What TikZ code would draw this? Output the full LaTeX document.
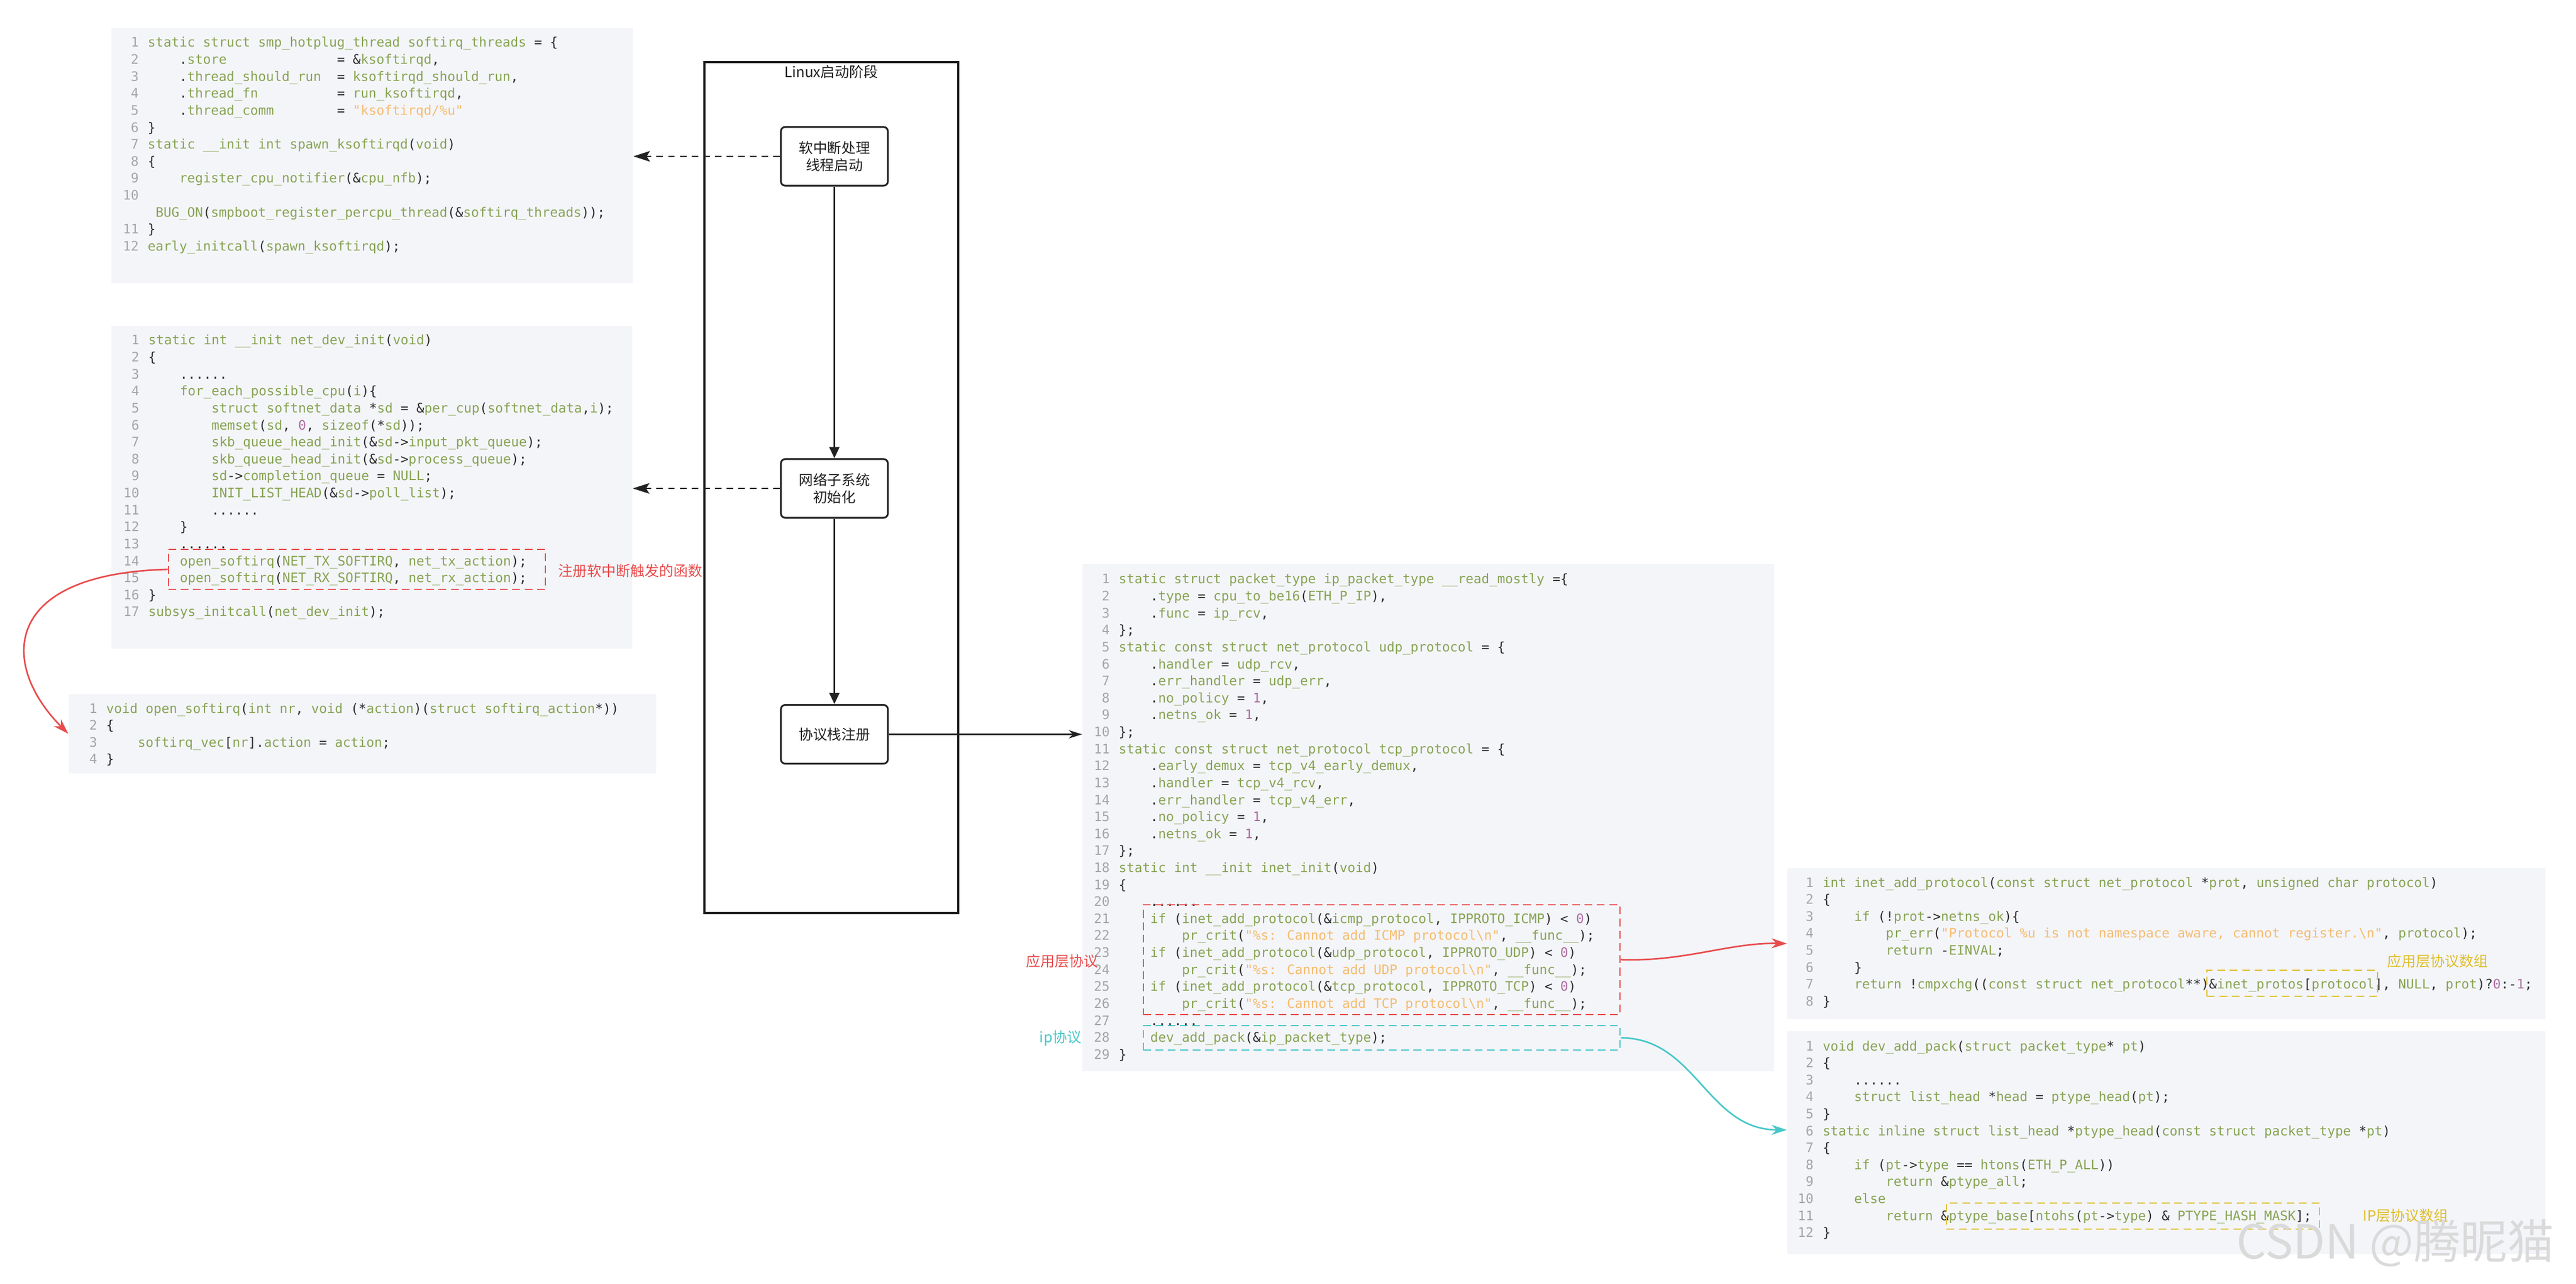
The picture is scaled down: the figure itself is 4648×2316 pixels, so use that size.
\documentclass[tikz,border=0pt]{standalone}
\usepackage{fontspec}
\usetikzlibrary{arrows.meta,fit,calc}
\newfontfamily\codefont{DejaVu Sans Mono}
\newfontfamily\cjk{Noto Sans CJK SC}
\definecolor{cbg}{RGB}{244,245,249}
\definecolor{cgreen}{RGB}{136,164,84}
\definecolor{cstr}{RGB}{244,188,112}
\definecolor{cnum}{RGB}{172,110,160}
\definecolor{cnumc}{RGB}{165,165,170}
\definecolor{cdk}{RGB}{45,45,45}
\definecolor{cred}{RGB}{232,76,76}
\definecolor{ccyan}{RGB}{72,199,201}
\definecolor{cyel}{RGB}{222,190,44}
\definecolor{cline}{RGB}{34,34,34}
\definecolor{cwm}{RGB}{218,218,218}
\newif\ifcstr
\newcommand\pc[1]{\ifcstr#1\else{\color{cdk}#1}\fi}
\newcommand\STR[1]{{\cstrtrue\color{cstr}#1}}
\newcommand\NUM[1]{{\color{cnum}#1}}
\newcommand\OB{\pc{\char`\{}}
\newcommand\CB{\pc{\char`\}}}
\newcommand\BS{\char`\\}
\newlength\cwd
\setlength\cwd{4.0458pt}
\newcommand\SP[1]{\hspace*{#1\cwd}}
\ExplSyntaxOn
\regex_const:Nn \c_my_punct_regex { [\(\)\,\;\=\*\.\[\]\!\?\:\<\>\-] | \c{\&} }
\tl_new:N \l_my_code_tl
\cs_new_protected:Npn \codefmt #1
  {
    \tl_set:Nn \l_my_code_tl {#1}
    \regex_replace_all:NnN \c_my_punct_regex { \c{pc}\cB\{ \0 \cE\} } \l_my_code_tl
    \tl_use:N \l_my_code_tl
  }
\ExplSyntaxOff
\def\pitch{0.306cm}
\def\cgap{0.15cm}
\def\cw{4.0458pt}
\newcommand\cl[5]{%
  \node[cnumst] (#1n#2) at ([yshift={-(#2)*\pitch}]#1) {#3};%
  \node[ctxt] (#1t#2) at ([xshift={\cgap+(#4)*\cw},yshift={-(#2)*\pitch}]#1) {\codefmt{#5}};%
}
\tikzset{
  codefnt/.style={font={\codefont\fontsize{6.72}{8}\selectfont}},
  cnumst/.style={codefnt,anchor=base east,inner sep=0pt,text=cnumc},
  ctxt/.style={codefnt,anchor=base west,inner sep=0pt,text=cgreen},
  codebg/.style={fill=cbg,draw=none,inner sep=0pt},
  procbox/.style={draw=cline,line width=0.9pt,rounded corners=0.08cm,minimum width=1.93cm,minimum height=1.06cm,align=center,inner sep=0pt,font={\cjk\fontsize{7.3}{8.8}\selectfont},text=cline},
  frame/.style={draw=cline,line width=0.9pt,inner sep=0pt},
  flowarrow/.style={draw=cline,line width=0.9pt,-{Triangle[length=0.2cm,width=0.18cm]}},
  dasharrow/.style={draw=cline,line width=0.8pt,dash pattern=on 3.4pt off 2.6pt,-{Stealth[length=0.3cm,width=0.19cm,inset=0.06cm]}},
  thinarrow/.style={draw=cline,line width=0.6pt,-{Stealth[length=0.24cm,width=0.15cm]}},
  redbox/.style={draw=cred,line width=0.8pt,dash pattern=on 4pt off 2.3pt,inner sep=0pt},
  cyanbox/.style={draw=ccyan,line width=0.8pt,dash pattern=on 4pt off 2.3pt,inner sep=0pt},
  yelbox/.style={draw=cyel,line width=0.7pt,dash pattern=on 4pt off 2.4pt,inner sep=0pt},
  redarrow/.style={draw=cred,line width=0.8pt,-{Stealth[length=0.28cm,width=0.18cm]}},
  cyanarrow/.style={draw=ccyan,line width=0.8pt,-{Stealth[length=0.28cm,width=0.18cm]}},
  lbl/.style={inner sep=0pt,font={\cjk\fontsize{7.4}{8.8}\selectfont}},
}
\begin{document}
\begin{tikzpicture}[x=0.01cm,y=-0.01cm]
\useasboundingbox (0,0) rectangle (4648,2316);
\fill[white] (0,0) rectangle (4648,2316);
% code backgrounds
\node[codebg,fit={(201,50) (1142,511)}] (b1) {};
\node[codebg,fit={(201,588) (1141,1170)}] (b2) {};
\node[codebg,fit={(124,1252) (1184,1395)}] (b3) {};
\node[codebg,fit={(1953,1017) (3201,1932)}] (b4) {};
\node[codebg,fit={(3225,1566) (4593,1838)}] (b5) {};
\node[codebg,fit={(3225,1860) (4593,2262)}] (b6) {};
\coordinate (b1o) at (251,85);
\coordinate (b2o) at (252,622);
\coordinate (b3o) at (176,1286);
\coordinate (b4o) at (2003,1053);
\coordinate (b5o) at (3273,1600);
\coordinate (b6o) at (3273,1895);
% block 1
\cl{b1o}{0}{1}{0}{static struct smp\_hotplug\_thread softirq\_threads = \OB}
\cl{b1o}{1}{2}{4}{.store\SP{14}= \&ksoftirqd,}
\cl{b1o}{2}{3}{4}{.thread\_should\_run\SP{2}= ksoftirqd\_should\_run,}
\cl{b1o}{3}{4}{4}{.thread\_fn\SP{10}= run\_ksoftirqd,}
\cl{b1o}{4}{5}{4}{.thread\_comm\SP{8}= \STR{"ksoftirqd/\%u"}}
\cl{b1o}{5}{6}{0}{\CB}
\cl{b1o}{6}{7}{0}{static \_\_init int spawn\_ksoftirqd(void)}
\cl{b1o}{7}{8}{0}{\OB}
\cl{b1o}{8}{9}{4}{register\_cpu\_notifier(\&cpu\_nfb);}
\cl{b1o}{9}{10}{0}{}
\cl{b1o}{10}{}{1}{BUG\_ON(smpboot\_register\_percpu\_thread(\&softirq\_threads));}
\cl{b1o}{11}{11}{0}{\CB}
\cl{b1o}{12}{12}{0}{early\_initcall(spawn\_ksoftirqd);}
% block 2
\cl{b2o}{0}{1}{0}{static int \_\_init net\_dev\_init(void)}
\cl{b2o}{1}{2}{0}{\OB}
\cl{b2o}{2}{3}{4}{......}
\cl{b2o}{3}{4}{4}{for\_each\_possible\_cpu(i)\OB}
\cl{b2o}{4}{5}{8}{struct softnet\_data *sd = \&per\_cup(softnet\_data,i);}
\cl{b2o}{5}{6}{8}{memset(sd, \NUM{0}, sizeof(*sd));}
\cl{b2o}{6}{7}{8}{skb\_queue\_head\_init(\&sd->input\_pkt\_queue);}
\cl{b2o}{7}{8}{8}{skb\_queue\_head\_init(\&sd->process\_queue);}
\cl{b2o}{8}{9}{8}{sd->completion\_queue = NULL;}
\cl{b2o}{9}{10}{8}{INIT\_LIST\_HEAD(\&sd->poll\_list);}
\cl{b2o}{10}{11}{8}{......}
\cl{b2o}{11}{12}{4}{\CB}
\cl{b2o}{12}{13}{4}{......}
\cl{b2o}{13}{14}{4}{open\_softirq(NET\_TX\_SOFTIRQ, net\_tx\_action);}
\cl{b2o}{14}{15}{4}{open\_softirq(NET\_RX\_SOFTIRQ, net\_rx\_action);}
\cl{b2o}{15}{16}{0}{\CB}
\cl{b2o}{16}{17}{0}{subsys\_initcall(net\_dev\_init);}
% block 3
\cl{b3o}{0}{1}{0}{void open\_softirq(int nr, void (*action)(struct softirq\_action*))}
\cl{b3o}{1}{2}{0}{\OB}
\cl{b3o}{2}{3}{4}{softirq\_vec[nr].action = action;}
\cl{b3o}{3}{4}{0}{\CB}
% block 4
\cl{b4o}{0}{1}{0}{static struct packet\_type ip\_packet\_type \_\_read\_mostly =\OB}
\cl{b4o}{1}{2}{4}{.type = cpu\_to\_be16(ETH\_P\_IP),}
\cl{b4o}{2}{3}{4}{.func = ip\_rcv,}
\cl{b4o}{3}{4}{0}{\CB;}
\cl{b4o}{4}{5}{0}{static const struct net\_protocol udp\_protocol = \OB}
\cl{b4o}{5}{6}{4}{.handler = udp\_rcv,}
\cl{b4o}{6}{7}{4}{.err\_handler = udp\_err,}
\cl{b4o}{7}{8}{4}{.no\_policy = \NUM{1},}
\cl{b4o}{8}{9}{4}{.netns\_ok = \NUM{1},}
\cl{b4o}{9}{10}{0}{\CB;}
\cl{b4o}{10}{11}{0}{static const struct net\_protocol tcp\_protocol = \OB}
\cl{b4o}{11}{12}{4}{.early\_demux = tcp\_v4\_early\_demux,}
\cl{b4o}{12}{13}{4}{.handler = tcp\_v4\_rcv,}
\cl{b4o}{13}{14}{4}{.err\_handler = tcp\_v4\_err,}
\cl{b4o}{14}{15}{4}{.no\_policy = \NUM{1},}
\cl{b4o}{15}{16}{4}{.netns\_ok = \NUM{1},}
\cl{b4o}{16}{17}{0}{\CB;}
\cl{b4o}{17}{18}{0}{static int \_\_init inet\_init(void)}
\cl{b4o}{18}{19}{0}{\OB}
\cl{b4o}{19}{20}{4}{......}
\cl{b4o}{20}{21}{4}{if (inet\_add\_protocol(\&icmp\_protocol, IPPROTO\_ICMP) < \NUM{0})}
\cl{b4o}{21}{22}{8}{pr\_crit(\STR{"\%s: Cannot add ICMP protocol\BS{}n"}, \_\_func\_\_);}
\cl{b4o}{22}{23}{4}{if (inet\_add\_protocol(\&udp\_protocol, IPPROTO\_UDP) < \NUM{0})}
\cl{b4o}{23}{24}{8}{pr\_crit(\STR{"\%s: Cannot add UDP protocol\BS{}n"}, \_\_func\_\_);}
\cl{b4o}{24}{25}{4}{if (inet\_add\_protocol(\&tcp\_protocol, IPPROTO\_TCP) < \NUM{0})}
\cl{b4o}{25}{26}{8}{pr\_crit(\STR{"\%s: Cannot add TCP protocol\BS{}n"}, \_\_func\_\_);}
\cl{b4o}{26}{27}{4}{......}
\cl{b4o}{27}{28}{4}{dev\_add\_pack(\&ip\_packet\_type);}
\cl{b4o}{28}{29}{0}{\CB}
% block 5
\cl{b5o}{0}{1}{0}{int inet\_add\_protocol(const struct net\_protocol *prot, unsigned char protocol)}
\cl{b5o}{1}{2}{0}{\OB}
\cl{b5o}{2}{3}{4}{if (!prot->netns\_ok)\OB}
\cl{b5o}{3}{4}{8}{pr\_err(\STR{"Protocol \%u is not namespace aware, cannot register.\BS{}n"}, protocol);}
\cl{b5o}{4}{5}{8}{return -EINVAL;}
\cl{b5o}{5}{6}{4}{\CB}
\cl{b5o}{6}{7}{4}{return !cmpxchg((const struct net\_protocol**)\&inet\_protos[protocol], NULL, prot)?\NUM{0}:-\NUM{1};}
\cl{b5o}{7}{8}{0}{\CB}
% block 6
\cl{b6o}{0}{1}{0}{void dev\_add\_pack(struct packet\_type* pt)}
\cl{b6o}{1}{2}{0}{\OB}
\cl{b6o}{2}{3}{4}{......}
\cl{b6o}{3}{4}{4}{struct list\_head *head = ptype\_head(pt);}
\cl{b6o}{4}{5}{0}{\CB}
\cl{b6o}{5}{6}{0}{static inline struct list\_head *ptype\_head(const struct packet\_type *pt)}
\cl{b6o}{6}{7}{0}{\OB}
\cl{b6o}{7}{8}{4}{if (pt->type == htons(ETH\_P\_ALL))}
\cl{b6o}{8}{9}{8}{return \&ptype\_all;}
\cl{b6o}{9}{10}{4}{else}
\cl{b6o}{10}{11}{8}{return \&ptype\_base[ntohs(pt->type) \& PTYPE\_HASH\_MASK];}
\cl{b6o}{11}{12}{0}{\CB}
% highlight boxes
\node[redbox,fit={(304,991) (984,1063)}] (rb1) {};
\node[redbox,fit={(2063,1632) (2923,1830)}] (rb2) {};
\node[cyanbox,fit={(2063,1850) (2923,1894)}] (cb) {};
\node[yelbox,fit={(3982,1750) (4290,1797)}] (yb1) {};
\node[yelbox,fit={(3512,2170) (4185,2217)}] (yb2) {};
% labels
\node[lbl,text=cred,anchor=west] (lab1) at (1007,1030) {注册软中断触发的函数};
\node[lbl,text=cred,anchor=east] (lab2) at (1982,1734) {应用层协议};
\node[lbl,text=ccyan,anchor=east] (lab3) at (1952,1873) {ip协议};
\node[lbl,text=cyel,anchor=west] (lab4) at (4307,1734) {应用层协议数组};
\node[lbl,text=cyel,anchor=west] (lab5) at (4263,2193) {IP层协议数组};
% center column
\node[frame,fit={(1271,112) (1729,1647)}] (frame) {};
\node[lbl,text=cline] (title) at (1500,130) {Linux启动阶段};
\node[procbox] (n1) at (1505.5,282) {软中断处理\\线程启动};
\node[procbox] (n2) at (1505.5,881) {网络子系统\\初始化};
\node[procbox] (n3) at (1505.5,1324.5) {协议栈注册};
\draw[flowarrow] (n1.south) -- (n2.north);
\draw[flowarrow] (n2.south) -- (n3.north);
\draw[dasharrow] (n1.west) -- (n1.west -| b1.east);
\draw[dasharrow] (n2.west) -- (n2.west -| b2.east);
\draw[thinarrow] (n3.east) -- (n3.east -| b4.west);
% curved connectors
\draw[redarrow] (rb1.west) .. controls (0,1035) and (0,1200) .. (b3.west);
\draw[redarrow] (rb2.east) .. controls (3040,1735) and (3120,1700) .. (b5.west);
\coordinate (c6) at ($(b6.west)+(0,-23)$);
\draw[cyanarrow] (cb.east) .. controls (3060,1872) and (3080,2038) .. (c6);
% watermark
\node[anchor=base west,inner sep=0pt,text=cwm,font={\cjk\fontsize{24}{28}\selectfont}] (wm) at (4035,2270) {CSDN @腾昵猫};
\end{tikzpicture}
\end{document}
